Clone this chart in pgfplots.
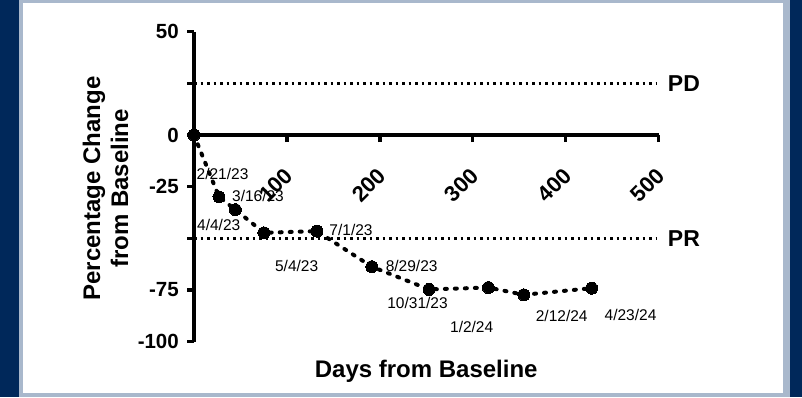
\documentclass[border=0pt]{standalone}
\usepackage{fontspec}
\setmainfont{Liberation Sans}
\usepackage{pgfplots}
\pgfplotsset{compat=1.18}
\definecolor{navy}{HTML}{00285A}
\definecolor{rim}{HTML}{A9B8CC}
\begin{document}
\begin{tikzpicture}[x=1pt,y=1pt]
\fill[navy] (0,0) rectangle (802,397);
\fill[rim] (19,0) rectangle (790,397);
\fill[white] (23,4) rectangle (783,394);
\useasboundingbox (0,0) rectangle (802,397);
\begin{axis}[
  scale only axis, width=464.5pt, height=310pt,
  at={(194pt,55.3pt)}, anchor=south west,
  xmin=0, xmax=500, ymin=-100, ymax=50,
  axis lines=middle,
  axis line style={line width=4pt, -},
  clip=false,
  hide obscured x ticks=false, hide obscured y ticks=false,
  xtick={100,200,300,400,500},
  xticklabels={100,200,300,400,500},
  ytick={-100,-75,-50,-25,0,25,50},
  yticklabels={-100,-75,,-25,0,,50},
  tick align=outside,
  major tick length=7pt,
  tick style={line width=3.5pt, black},
  xticklabel style={font=\bfseries\fontsize{22}{22}\selectfont, xshift=2pt, yshift=-30pt, rotate=45, anchor=east, inner sep=0pt},
  yticklabel style={font=\bfseries\fontsize{20.5}{20.5}\selectfont, anchor=east, inner sep=0pt, xshift=-8pt},
  xlabel={Days from Baseline},
  ylabel={Percentage Change\\from Baseline},
  every axis x label/.style={at={(axis cs:250,-117.3)}, anchor=base, font=\bfseries\fontsize{24}{28}\selectfont},
  every axis y label/.style={at={(axis cs:-95.3,-25.8)}, anchor=center, rotate=90, align=center, font=\bfseries\fontsize{24}{28}\selectfont},
]
\addplot[black, line width=2.5pt, dash pattern=on 2.5pt off 4pt, forget plot] coordinates {(0,25) (497,25)};
\addplot[black, line width=2.5pt, dash pattern=on 2.5pt off 4pt, forget plot] coordinates {(0,-50) (497,-50)};
\addplot[black, line width=4pt, dash pattern=on 2pt off 8pt, line cap=round, mark=*, mark size=6pt, mark options={solid, fill=black, line width=0pt}] coordinates {
(0,0) (26.9,-29.9) (44.5,-36.1) (75.3,-47.3) (132.3,-46.5) (191.4,-63.7) (253,-74.7) (316.9,-73.8) (355,-77.3) (428.1,-74.1)
};
\node[anchor=west, font=\bfseries\fontsize{23}{23}\selectfont, inner sep=0pt] at (axis cs:510,25) {PD};
\node[anchor=west, font=\bfseries\fontsize{23}{23}\selectfont, inner sep=0pt] at (axis cs:510,-50) {PR};
\begin{scope}[every node/.style={font=\fontsize{15.5}{15.5}\selectfont, inner sep=0pt}]
\node at (axis cs:30.7,-19) {2/21/23};
\node at (axis cs:68.9,-29.5) {3/16/23};
\node at (axis cs:26.6,-43.3) {4/4/23};
\node at (axis cs:169,-45.7) {7/1/23};
\node at (axis cs:110.5,-63.2) {5/4/23};
\node at (axis cs:234.3,-63.5) {8/29/23};
\node at (axis cs:240.6,-81.3) {10/31/23};
\node at (axis cs:298.9,-93) {1/2/24};
\node at (axis cs:395.8,-87.4) {2/12/24};
\node at (axis cs:469.9,-87) {4/23/24};
\end{scope}
\end{axis}
\end{tikzpicture}
\end{document}
